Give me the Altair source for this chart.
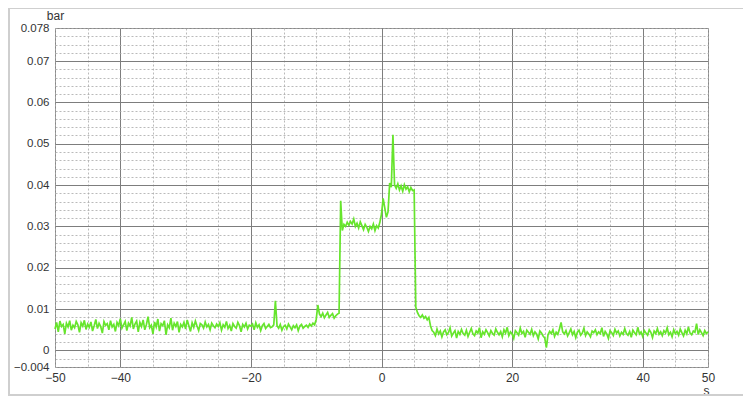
import altair as alt
import pandas as pd

# pressure trace, in units of 1e-4 bar, one sample every 0.25 s from -50 s
t_start = -50.0
t_step = 0.25
pressure_e4 = [
    # -50 .. -17
    52, 68, 45, 71, 58, 63, 40, 66, 57, 72, 49, 61, 55, 70, 62, 44, 67, 59, 73, 51,
    64, 56, 69, 47, 60, 75, 53, 66, 58, 42, 70, 61, 65, 50, 72, 57, 63, 46, 68, 60,
    77, 54, 62, 70, 48, 66, 59, 80, 52, 64, 71, 45, 68, 58, 74, 50, 63, 82, 55, 61,
    40, 69, 57, 76, 47, 65, 60, 72, 38, 62, 55, 78, 49, 66, 58, 70, 44, 63, 57, 68,
    52, 74, 60, 46, 67, 56, 71, 59, 48, 65, 62, 54, 69, 57, 63, 50, 66, 60, 55, 64,
    58, 67, 49, 62, 56, 70, 53, 61, 47, 65, 58, 54, 68, 60, 45, 63, 57, 66, 52, 61,
    59, 64, 50, 67, 56, 62, 48, 60, 65, 53, 58, 63, 55,
    # -16.75 .. -10.25
    57, 62, 120, 60, 54, 63, 49, 58, 61, 52, 64, 57, 50, 60, 55, 62, 48, 59, 63, 54,
    58, 61, 56, 64, 59, 66, 62,
    # -10 .. -6.75
    75, 110, 88, 82, 90, 79, 86, 92, 80, 85, 89, 78, 84, 88,
    # -6.5 .. -0.25
    90, 362, 290, 305, 300, 310, 303, 312, 306, 318, 300, 308, 296, 311, 302, 292,
    305, 298, 288, 300, 294, 306, 290, 302, 296, 310,
    # 0 .. 4.75
    330, 368, 345, 322, 335, 405, 395, 522, 400, 392, 403, 388, 398, 385, 401, 390,
    396, 384, 394, 387,
    # 5 .. 7.75
    388, 105, 92, 84, 80, 86, 78, 82, 74, 80, 60, 48,
    # 8 .. 50
    44, 36, 52, 40, 47, 33, 45, 50, 38, 43, 55, 35, 42, 48, 30, 46, 39, 51, 41, 37,
    49, 34, 44, 53, 40, 36, 47, 42, 55, 31, 45, 39, 50, 43, 35, 48, 41, 37, 52, 44,
    38, 46, 33, 50, 42, 56, 36, 45, 40, 29, 48, 43, 37, 54, 41, 46, 32, 49, 44, 39,
    51, 36, 45, 40, 28, 47, 42, 35, 30, 7, 38, 46, 41, 50, 34, 44, 39, 52, 68, 45,
    40, 48, 35, 43, 52, 38, 46, 31, 44, 49, 37, 42, 54, 36, 45, 40, 33, 47, 43, 50,
    38, 45, 41, 55, 34, 46, 40, 29, 48, 43, 36, 51, 42, 47, 35, 44, 39, 53, 41, 37,
    46, 32, 49, 43, 38, 56, 40, 45, 34, 48, 42, 37, 50, 44, 31, 47, 41, 53, 39, 45,
    36, 48, 42, 55, 38, 44, 33, 50, 41, 46, 37, 52, 43, 35, 49, 40, 57, 42, 38, 47,
    44, 65, 39, 50, 43, 36, 48, 41, 45,
]

time_s = [round(t_start + t_step * i, 2) for i in range(len(pressure_e4))]
pressure_bar = [v / 10000 for v in pressure_e4]

x_grid = list(range(-50, 51, 5))
x_labels = [-50, -40, -20, 0, 20, 40, 50]
y_grid = [round(-0.004 + 0.002 * i, 3) for i in range(42)]
y_labels = [-0.004, 0, 0.01, 0.02, 0.03, 0.04, 0.05, 0.06, 0.07, 0.078]

df = pd.DataFrame({"t": time_s, "p": pressure_bar})

FONT = "Liberation Sans"
MAJOR = "#7d7d7d"
MINOR = "#a8a8a8"

x_axis = alt.Axis(
    values=x_grid,
    labelExpr="indexof(" + str(x_labels) + ", datum.value) >= 0 ? format(datum.value, 'd') : ''",
    ticks=False,
    domain=False,
    labelPadding=5,
    labelFont=FONT,
    labelFontSize=12,
    labelColor="#333333",
    labelFlush=False,
    labelOverlap=False,
    grid=True,
    gridColor=alt.condition("datum.value % 20 == 0", alt.value(MAJOR), alt.value(MINOR)),
    gridDash=alt.condition("datum.value % 20 == 0", alt.value([]), alt.value([2, 2])),
    gridWidth=alt.condition("datum.value % 20 == 0", alt.value(1), alt.value(0.8)),
    title="s",
    titleFont=FONT,
    titleFontSize=12,
    titleFontWeight="normal",
    titleColor="#333333",
    titleX=651,
    titleY=23,
    titleAlign="center",
    titleBaseline="middle",
)

major_y = "abs(datum.value * 100 - round(datum.value * 100)) < 1e-6"
y_axis = alt.Axis(
    values=y_grid,
    labelExpr="indexof(" + str(y_labels) + ", datum.value) >= 0 ? format(datum.value, '~g') : ''",
    ticks=False,
    domain=False,
    labelPadding=6,
    labelFont=FONT,
    labelFontSize=11.5,
    labelColor="#333333",
    labelFlush=False,
    labelOverlap=False,
    labelBaseline="middle",
    grid=True,
    gridColor=alt.condition(major_y, alt.value(MAJOR), alt.value(MINOR)),
    gridDash=alt.condition(major_y, alt.value([]), alt.value([2, 2])),
    gridWidth=alt.condition(major_y, alt.value(1), alt.value(0.8)),
    title="bar",
    titleFont=FONT,
    titleFontSize=12,
    titleFontWeight="normal",
    titleColor="#333333",
    titleAngle=0,
    titleX=0,
    titleY=-13,
    titleAlign="center",
    titleBaseline="middle",
)

line = alt.Chart(df).mark_line(color="#66e52c", strokeWidth=1.7).encode(
    x=alt.X("t:Q", scale=alt.Scale(domain=[-50, 50], nice=False, zero=False), axis=x_axis),
    y=alt.Y("p:Q", scale=alt.Scale(domain=[-0.004, 0.078], nice=False, zero=False), axis=y_axis),
)

frame = alt.Chart(pd.DataFrame({"a": [0]})).mark_rect(
    filled=False, stroke="#cfcfcf", strokeWidth=2
).encode(
    x=alt.value(-46), x2=alt.value(720), y=alt.value(-20), y2=alt.value(367)
)

chart = alt.layer(line, frame).properties(
    width=653,
    height=339,
    autosize=alt.AutoSizeParams(type="none"),
    padding={"left": 47, "top": 20, "right": 35, "bottom": 32},
    background="white",
).configure_view(stroke="#888888", strokeWidth=1)

chart.save("out.html", embed_options={"renderer": "svg", "actions": False})
